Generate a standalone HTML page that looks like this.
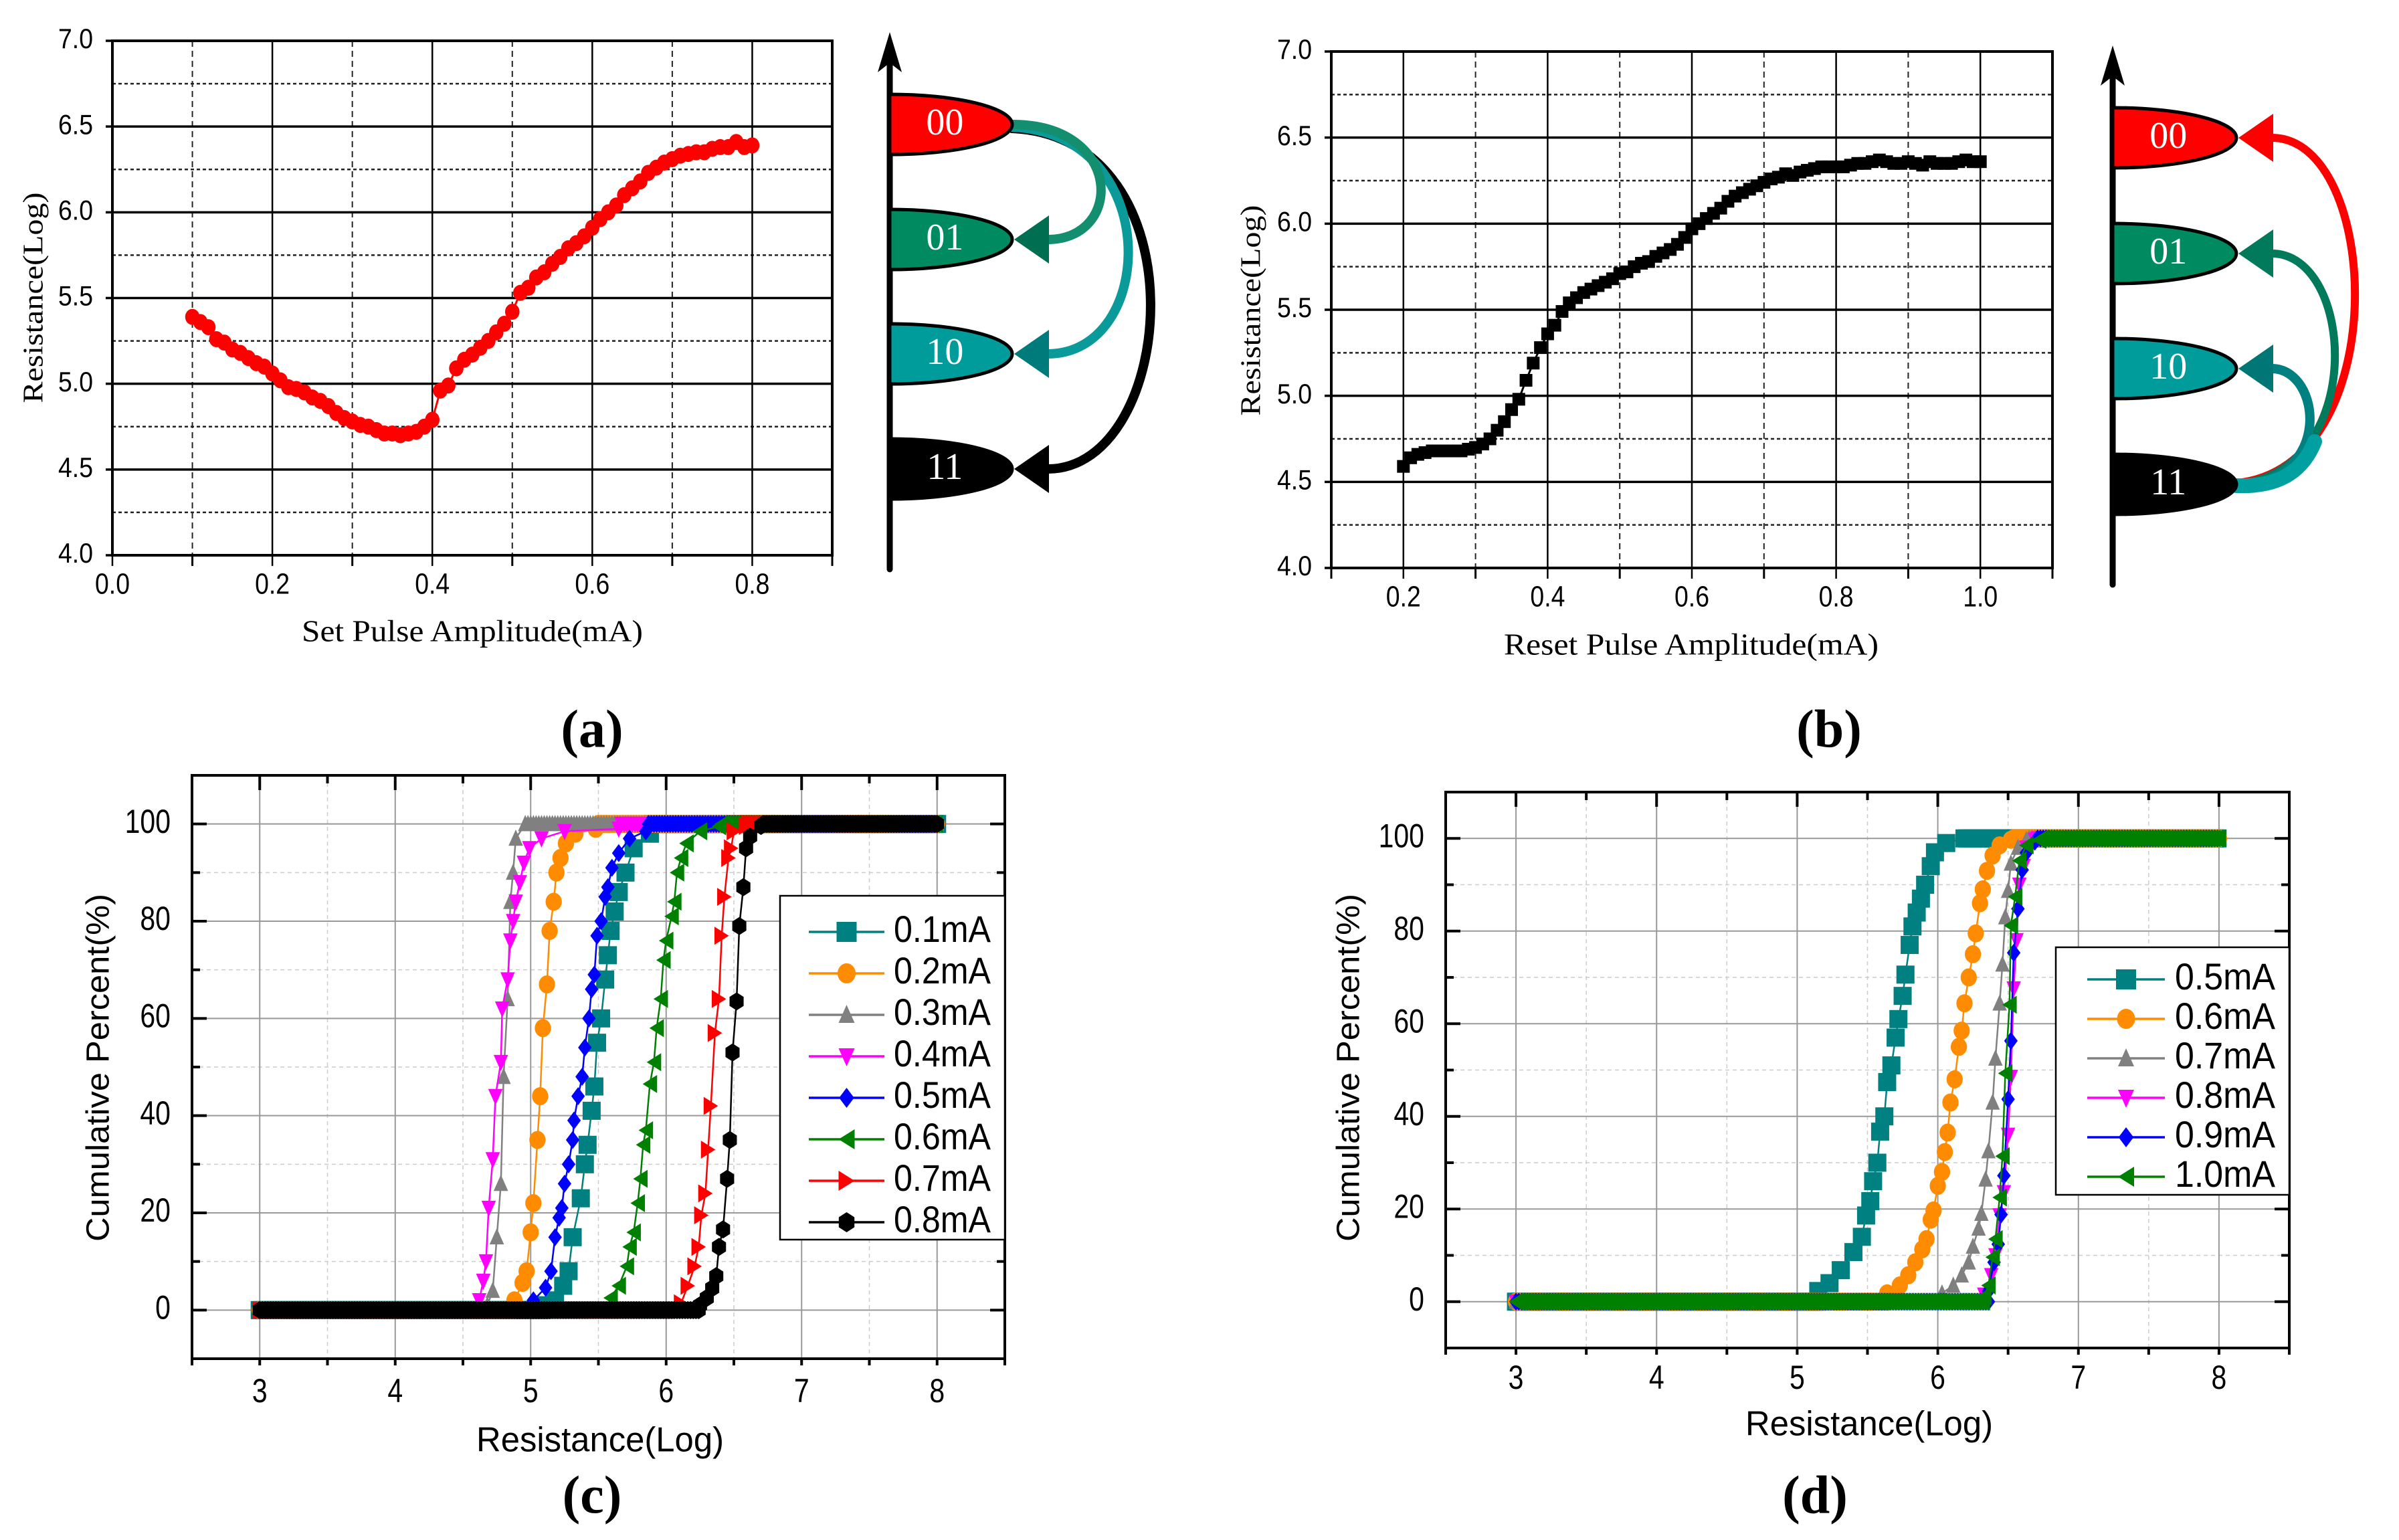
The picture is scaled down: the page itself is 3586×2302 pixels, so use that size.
<!DOCTYPE html>
<html><head><meta charset="utf-8"><title>Resistance charts</title>
<style>
html,body{margin:0;padding:0;background:#fff;}
svg{display:block;}
.nar{font-family:"Liberation Sans Narrow","Liberation Sans",sans-serif;}
.ser{font-family:"Liberation Serif",serif;}
.san{font-family:"Liberation Sans",sans-serif;}
</style></head>
<body>
<svg id="chart" xmlns="http://www.w3.org/2000/svg" width="3586" height="2302" viewBox="0 0 3586 2302">
<rect x="0" y="0" width="3586" height="2302" fill="#fff"/>
<text x="885" y="1098" class="ser" font-size="80" font-weight="bold" text-anchor="middle" dominant-baseline="middle">(a)</text>
<text x="2734" y="1098" class="ser" font-size="80" font-weight="bold" text-anchor="middle" dominant-baseline="middle">(b)</text>
<text x="885" y="2243" class="ser" font-size="80" font-weight="bold" text-anchor="middle" dominant-baseline="middle">(c)</text>
<text x="2713" y="2243" class="ser" font-size="80" font-weight="bold" text-anchor="middle" dominant-baseline="middle">(d)</text>
</svg>
<script>
// ---------- DATA ----------
const aX=[0.10,0.11,0.12,0.13,0.14,0.15,0.16,0.17,0.18,0.19,0.20,0.21,0.22,0.23,0.24,0.25,0.26,0.27,0.28,0.29,0.30,0.31,0.32,0.33,0.34,0.35,0.36,0.37,0.38,0.39,0.40,0.41,0.42,0.43,0.44,0.45,0.46,0.47,0.48,0.49,0.50,0.51,0.52,0.53,0.54,0.55,0.56,0.57,0.58,0.59,0.60,0.61,0.62,0.63,0.64,0.65,0.66,0.67,0.68,0.69,0.70,0.71,0.72,0.73,0.74,0.75,0.76,0.77,0.78,0.79,0.80];
const aY=[5.39,5.36,5.33,5.26,5.24,5.20,5.18,5.15,5.12,5.10,5.06,5.02,4.98,4.97,4.95,4.92,4.90,4.87,4.83,4.80,4.78,4.76,4.75,4.73,4.71,4.71,4.70,4.71,4.72,4.75,4.79,4.96,4.99,5.09,5.14,5.17,5.21,5.25,5.30,5.35,5.42,5.53,5.56,5.62,5.65,5.70,5.74,5.79,5.82,5.86,5.91,5.96,6.00,6.04,6.10,6.14,6.18,6.23,6.26,6.29,6.31,6.33,6.34,6.35,6.35,6.37,6.38,6.38,6.41,6.38,6.39];
const bX=[0.20,0.21,0.22,0.23,0.24,0.25,0.26,0.27,0.28,0.29,0.30,0.31,0.32,0.33,0.34,0.35,0.36,0.37,0.38,0.39,0.40,0.41,0.42,0.43,0.44,0.45,0.46,0.47,0.48,0.49,0.50,0.51,0.52,0.53,0.54,0.55,0.56,0.57,0.58,0.59,0.60,0.61,0.62,0.63,0.64,0.65,0.66,0.67,0.68,0.69,0.70,0.71,0.72,0.73,0.74,0.75,0.76,0.77,0.78,0.79,0.80,0.81,0.82,0.83,0.84,0.85,0.86,0.87,0.88,0.89,0.90,0.91,0.92,0.93,0.94,0.95,0.96,0.97,0.98,0.99,1.00];
const bY=[4.59,4.64,4.66,4.67,4.68,4.68,4.68,4.68,4.68,4.69,4.70,4.72,4.75,4.80,4.85,4.92,4.98,5.09,5.19,5.28,5.36,5.41,5.49,5.54,5.57,5.60,5.62,5.64,5.66,5.68,5.71,5.72,5.75,5.77,5.78,5.81,5.83,5.85,5.88,5.92,5.97,6.00,6.03,6.06,6.09,6.13,6.16,6.18,6.20,6.22,6.24,6.26,6.27,6.29,6.28,6.30,6.31,6.32,6.33,6.33,6.33,6.33,6.34,6.35,6.35,6.36,6.37,6.36,6.35,6.35,6.36,6.35,6.34,6.36,6.35,6.35,6.35,6.36,6.37,6.36,6.36];

const aXTicks=["0.0","0.2","0.4","0.6","0.8"];
const bXTicks=["0.2","0.4","0.6","0.8","1.0"];
const abYTicks=["4.0","4.5","5.0","5.5","6.0","6.5","7.0"];
const cdXTicks=["3","4","5","6","7","8"];
const cdYTicks=["0","20","40","60","80","100"];

const cLabels=["0.1mA","0.2mA","0.3mA","0.4mA","0.5mA","0.6mA","0.7mA","0.8mA"];
const c1X=[5.08,5.18,5.24,5.28,5.31,5.37,5.40,5.42,5.45,5.47,5.49,5.52,5.55,5.57,5.59,5.62,5.65,5.70,5.76,5.88];
const c1Y=[1,2,5,8,15,23,30,34,41,46,55,60,68,73,78,82,86,90,95,98];
const c2X=[4.88,4.94,4.97,5.00,5.02,5.05,5.07,5.09,5.12,5.14,5.17,5.19,5.22,5.26,5.33,5.48];
const c2Y=[2,5.6,8,16,22,35,44,58,67,78,84,90,93,96,98,99];
const c3X=[4.68,4.72,4.75,4.78,4.80,4.83,4.85,4.87,4.89,4.96];
const c3Y=[1,4,15,26,48,64,84,90,97,100];
const c4X=[4.62,4.65,4.67,4.69,4.72,4.74,4.78,4.79,4.83,4.85,4.87,4.89,4.92,4.95,4.99,5.08,5.25,5.65];
const c4Y=[2,6,10,21,31,44,51,62,68,76,80,84,88,92,95,97,98.5,99];
const c5X=[5.02,5.11,5.15,5.18,5.21,5.23,5.25,5.28,5.31,5.32,5.35,5.38,5.40,5.43,5.45,5.47,5.49,5.52,5.55,5.57,5.60,5.65,5.73,5.85];
const c5Y=[2,4.6,8,15,19,21,26,30,35,39,44,48,54,60,66,69,77,80,85,87,91,94,97,98.5];
const c6X=[5.59,5.65,5.71,5.73,5.76,5.79,5.81,5.83,5.85,5.88,5.91,5.93,5.96,5.98,6.00,6.04,6.06,6.08,6.11,6.15,6.25,6.39];
const c6Y=[2.5,5,9,13,16,22,27,34,37,46.5,51,58,64,72,76,81,84,90,93,96,98.5,99.5];
const c7X=[6.11,6.16,6.21,6.24,6.26,6.29,6.31,6.33,6.36,6.39,6.41,6.43,6.46,6.48,6.50,6.59];
const c7Y=[1.4,5,9,13,19.5,24,33,42,57,64,77,85,93,95,98.5,99.6];
const c8X=[6.25,6.30,6.34,6.37,6.39,6.42,6.45,6.47,6.49,6.52,6.54,6.57,6.59,6.62,6.70];
const c8Y=[1,2.5,4.5,7,13,16.6,27,35,53,63.5,79,87,95,97.4,99.6];

const dLabels=["0.5mA","0.6mA","0.7mA","0.8mA","0.9mA","1.0mA"];
const d1X=[5.15,5.23,5.31,5.40,5.46,5.49,5.52,5.54,5.57,5.59,5.62,5.64,5.67,5.70,5.72,5.75,5.77,5.80,5.82,5.85,5.88,5.91,5.95,5.98,6.06,6.19];
const d1Y=[2.3,4,6.8,10.7,14,18.6,21.7,26,30,36.7,40,47.4,51,57,61,66,70.6,77,81,84,87,90,94,97,99,100];
const d2X=[5.64,5.73,5.79,5.84,5.89,5.92,5.95,5.97,6.00,6.03,6.05,6.07,6.09,6.12,6.15,6.17,6.19,6.22,6.25,6.27,6.30,6.32,6.35,6.39,6.44,6.52];
const d2Y=[1.8,3.5,5.7,8.5,11.3,13.5,17.7,19.7,25,28,32.3,36.5,43,48,55,58.5,64.4,70,75,79.5,86,89,93,96.3,98.5,99.7];
const d3X=[6.03,6.11,6.17,6.22,6.25,6.29,6.31,6.34,6.36,6.39,6.41,6.44,6.46,6.48,6.50,6.52,6.57,6.63];
const d3Y=[1.8,3.5,5.7,8.5,11.9,15.8,19,26.4,32.5,43,52.5,64.4,72.8,83,88.7,94.6,98,99.7];
const d4X=[6.33,6.38,6.41,6.44,6.47,6.50,6.52,6.54,6.56,6.58,6.61,6.63,6.69];
const d4Y=[1.5,5.7,10,18.6,23.6,36,48.5,67.6,78,90,94,98,99.7];
const d5X=[6.36,6.40,6.43,6.45,6.47,6.50,6.52,6.54,6.57,6.60,6.63,6.69];
const d5Y=[2.3,8.5,12.4,18.8,27.2,43.7,56.3,75.3,84.8,93.2,96.9,99.3];
const d6X=[6.33,6.36,6.39,6.41,6.44,6.46,6.48,6.51,6.52,6.55,6.58,6.63,6.72];
const d6Y=[1.2,3.5,9.6,13.5,22.5,31.4,49.3,64.1,81.2,87.4,95.2,98.5,99.7];

// ---------- HELPERS ----------
const NS='http://www.w3.org/2000/svg';
const svg=document.getElementById('chart');
function mk(tag,attrs,parent){const e=document.createElementNS(NS,tag);for(const k in attrs)e.setAttribute(k,attrs[k]);(parent||svg).appendChild(e);return e;}
function lin(d0,d1,r0,r1){return v=>r0+(v-d0)*(r1-r0)/(d1-d0);}
function marker(shape,x,y,s,color,g,name){
  const r=s/2;let e;
  if(shape==='square'){e=mk('rect',{x:x-r,y:y-r,width:s,height:s,fill:color},g);}
  else if(shape==='circle'){e=mk('ellipse',{cx:x,cy:y,rx:r*0.9,ry:r,fill:color},g);}
  else{
    let p;
    if(shape==='up')p=[[x,y-r],[x+r*0.8,y+r*0.8],[x-r*0.8,y+r*0.8]];
    else if(shape==='down')p=[[x,y+r],[x+r*0.8,y-r*0.8],[x-r*0.8,y-r*0.8]];
    else if(shape==='left')p=[[x-r*0.8,y],[x+r*0.8,y-r],[x+r*0.8,y+r]];
    else if(shape==='right')p=[[x+r*0.8,y],[x-r*0.8,y-r],[x-r*0.8,y+r]];
    else if(shape==='diamond')p=[[x,y-r],[x+r*0.75,y],[x,y+r],[x-r*0.75,y]];
    else {p=[];for(let i=0;i<6;i++){const a=Math.PI/6+i*Math.PI/3;p.push([x+r*0.9*Math.cos(a),y+r*Math.sin(a)]);}}
    e=mk('polygon',{points:p.map(q=>q.join(',')).join(' '),fill:color},g);
  }
  
  
  return e;
}
function txt(s,x,y,attrs,cls,name,parent){
  const e=mk('text',Object.assign({x:x,y:y},attrs),parent);
  e.setAttribute('class',cls);e.textContent=s;
  
  
  return e;
}

// ---------- PANELS A / B ----------
function panelAB(cfg){
  const g=mk('g',{});
  
  
  const X=lin(cfg.x0,cfg.x1,cfg.L,cfg.R), Y=lin(4,7,cfg.B,cfg.T);
  for(let k=0;k<cfg.xMinor.length;k++){const l=mk('line',{x1:X(cfg.xMinor[k]),x2:X(cfg.xMinor[k]),y1:cfg.T,y2:cfg.B,stroke:'#222','stroke-width':2,'stroke-dasharray':'9 6'},g);
    }
  for(let v=4.25;v<7;v+=0.5){const l=mk('line',{x1:cfg.L,x2:cfg.R,y1:Y(v),y2:Y(v),stroke:'#222','stroke-width':2.5,'stroke-dasharray':'5 4'},g);
    }
  cfg.xTicks.forEach(t=>{const v=parseFloat(t);const l=mk('line',{x1:X(v),x2:X(v),y1:cfg.T,y2:cfg.B+16,stroke:'#000','stroke-width':2.5},g);
    
    txt(t,X(v),cfg.tickY,{'font-size':44,'text-anchor':'middle','dominant-baseline':'middle',textLength:52,lengthAdjust:'spacingAndGlyphs'},'nar','x-tick-label',g);});
  abYTicks.forEach(t=>{const v=parseFloat(t);const l=mk('line',{x1:cfg.L-10,x2:cfg.R,y1:Y(v),y2:Y(v),stroke:'#000','stroke-width':3.5},g);
    
    txt(t,cfg.yLabX,Y(v),{'font-size':42,'text-anchor':'end','dominant-baseline':'middle',textLength:52,lengthAdjust:'spacingAndGlyphs'},'nar','y-tick-label',g);});
  cfg.xMinor.concat([cfg.x1]).forEach(v=>{const l=mk('line',{x1:X(v),x2:X(v),y1:cfg.B,y2:cfg.B+16,stroke:'#000','stroke-width':3},g);
    });
  const f=mk('rect',{x:cfg.L,y:cfg.T,width:cfg.R-cfg.L,height:cfg.B-cfg.T,fill:'none',stroke:'#000','stroke-width':4},g);
  
  const pts=cfg.xs.map((v,i)=>X(v)+','+Y(cfg.ys[i])).join(' ');
  const pl=mk('polyline',{points:pts,fill:'none',stroke:cfg.color,'stroke-width':3},g);
  
  cfg.xs.forEach((v,i)=>marker(cfg.shape,X(v),Y(cfg.ys[i]),cfg.ms,cfg.color,g,'data-point'));
  txt(cfg.xTitle,cfg.xTitleX,cfg.xTitleY,{'font-size':46,'text-anchor':'middle','dominant-baseline':'middle',textLength:cfg.xTitleLen,lengthAdjust:'spacingAndGlyphs'},'ser','x-axis-title',g);
  txt('Resistance(Log)',0,0,{'font-size':42,'text-anchor':'middle','dominant-baseline':'middle',transform:`translate(${cfg.yTitleX},${cfg.yTitleY}) rotate(-90)`,textLength:315,lengthAdjust:'spacingAndGlyphs'},'ser','y-axis-title',g);
}
panelAB({name:'panel-a-set-chart',x0:0,x1:0.9,L:168,R:1244,T:61,B:830,xMinor:[0.1,0.3,0.5,0.7],xTicks:aXTicks,tickY:876,yLabX:139,
  xs:aX,ys:aY,color:'#ff0000',shape:'circle',ms:24,xTitle:'Set Pulse Amplitude(mA)',xTitleX:706,xTitleY:948,xTitleLen:510,yTitleX:54,yTitleY:445});
panelAB({name:'panel-b-reset-chart',x0:0.1,x1:1.1,L:1990,R:3068,T:77,B:849,xMinor:[0.1,0.3,0.5,0.7,0.9],xTicks:bXTicks,tickY:895,yLabX:1961,
  xs:bX,ys:bY,color:'#000',shape:'square',ms:19,xTitle:'Reset Pulse Amplitude(mA)',xTitleX:2528,xTitleY:968,xTitleLen:560,yTitleX:1874,yTitleY:464});

// ---------- PANELS C / D ----------
const TAIL_STEP=0.02;
function panelCD(cfg){
  const g=mk('g',{});
  
  
  const X=lin(2.5,8.5,cfg.L,cfg.R), Y=lin(-10,110,cfg.B,cfg.T);
  for(let v=3.5;v<8.5;v+=1){const l=mk('line',{x1:X(v),x2:X(v),y1:cfg.T,y2:cfg.B,stroke:'#ccc','stroke-width':1.5,'stroke-dasharray':'6 5'},g);
    }
  for(let v=10;v<110;v+=20){const l=mk('line',{x1:cfg.L,x2:cfg.R,y1:Y(v),y2:Y(v),stroke:'#ccc','stroke-width':1.5,'stroke-dasharray':'6 5'},g);
    }
  cdXTicks.forEach(t=>{const v=parseFloat(t);const l=mk('line',{x1:X(v),x2:X(v),y1:cfg.T,y2:cfg.B,stroke:'#999','stroke-width':2},g);
    
    txt(t,X(v),cfg.tickY,{'font-size':50,'text-anchor':'middle','dominant-baseline':'middle',transform:`translate(${X(v)},${cfg.tickY}) scale(0.82,1) translate(${-X(v)},${-cfg.tickY})`},'nar','x-tick-label',g);});
  cdYTicks.forEach(t=>{const v=parseFloat(t);const l=mk('line',{x1:cfg.L,x2:cfg.R,y1:Y(v),y2:Y(v),stroke:'#999','stroke-width':2},g);
    
    txt(t,cfg.yLabX,Y(v),{'font-size':50,'text-anchor':'end','dominant-baseline':'middle',transform:`translate(${cfg.yLabX},${Y(v)}) scale(0.82,1) translate(${-cfg.yLabX},${-Y(v)})`},'nar','y-tick-label',g);});
  for(let v=2.5;v<=8.5;v+=0.5){const major=Math.abs(v-Math.round(v))<0.01;const len=major?22:12;
    [[cfg.T,cfg.T+len],[cfg.B,cfg.B+10]].forEach(p=>{const l=mk('line',{x1:X(v),x2:X(v),y1:p[0],y2:p[1],stroke:'#000','stroke-width':4},g);
    });}
  for(let v=-10;v<=110;v+=10){const major=v%20===0;const len=major?22:12;
    [[cfg.L,cfg.L+len],[cfg.R,cfg.R-len]].forEach(p=>{const l=mk('line',{x1:p[0],x2:p[1],y1:Y(v),y2:Y(v),stroke:'#000','stroke-width':4},g);
    });}
  const f=mk('rect',{x:cfg.L,y:cfg.T,width:cfg.R-cfg.L,height:cfg.B-cfg.T,fill:'none',stroke:'#000','stroke-width':4},g);
  
  cfg.series.forEach((s,si)=>{
    const sg=mk('g',{},g);
    
    
    const px=[],py=[];
    for(let v=3;v<s.x[0];v+=TAIL_STEP){px.push(v);py.push(0);}
    s.x.forEach((v,i)=>{px.push(v);py.push(s.y[i]);});
    for(let v=s.x[s.x.length-1]+TAIL_STEP;v<=8.0001;v+=TAIL_STEP){px.push(v);py.push(100);}
    const pl=mk('polyline',{points:px.map((v,i)=>X(v)+','+Y(py[i])).join(' '),fill:'none',stroke:s.c,'stroke-width':2.5},sg);
    
    px.forEach((v,i)=>marker(s.m,X(v),Y(py[i]),cfg.ms,s.c,sg,'data-point'));
  });
  const lg=mk('g',{},g);
  
  
  const lb=mk('rect',{x:cfg.leg.x,y:cfg.leg.y,width:cfg.leg.w,height:cfg.leg.h,fill:'#fff',stroke:'#000','stroke-width':2.5},lg);
  
  cfg.series.forEach((s,i)=>{
    const y=cfg.leg.y0+i*cfg.leg.dy;
    const l=mk('line',{x1:cfg.leg.l0,x2:cfg.leg.l1,y1:y,y2:y,stroke:s.c,'stroke-width':3.5},lg);
    
    marker(s.m,(cfg.leg.l0+cfg.leg.l1)/2,y,30,s.c,lg,'legend-marker');
    txt(cfg.labels[i],cfg.leg.tx,y,{'font-size':56,'dominant-baseline':'middle',textLength:cfg.leg.tl,lengthAdjust:'spacingAndGlyphs'},'nar','legend-entry',lg);
  });
  txt('Resistance(Log)',cfg.xTitleX,cfg.xTitleY,{'font-size':52,'text-anchor':'middle','dominant-baseline':'middle',textLength:370,lengthAdjust:'spacingAndGlyphs'},'nar','x-axis-title',g);
  txt('Cumulative Percent(%)',0,0,{'font-size':48,'text-anchor':'middle','dominant-baseline':'middle',transform:`translate(${cfg.yTitleX},${cfg.yTitleY}) rotate(-90)`,textLength:520,lengthAdjust:'spacingAndGlyphs'},'san','y-axis-title',g);
}
panelCD({name:'panel-c-set-cdf',L:287,R:1502,T:1159,B:2031,tickY:2083,yLabX:255,ms:27,labels:cLabels,
  series:[{x:c1X,y:c1Y,c:'#008080',m:'square'},{x:c2X,y:c2Y,c:'#ff8c00',m:'circle'},{x:c3X,y:c3Y,c:'#808080',m:'up'},{x:c4X,y:c4Y,c:'#ff00ff',m:'down'},
          {x:c5X,y:c5Y,c:'#0000ff',m:'diamond'},{x:c6X,y:c6Y,c:'#008000',m:'left'},{x:c7X,y:c7Y,c:'#ff0000',m:'right'},{x:c8X,y:c8Y,c:'#000000',m:'hex'}],
  leg:{x:1166,y:1339,w:336,h:514,y0:1393,dy:62,l0:1209,l1:1322,tx:1336,tl:145},xTitleX:897,xTitleY:2156,yTitleX:150,yTitleY:1596});
panelCD({name:'panel-d-reset-cdf',L:2161,R:3422,T:1184,B:2015,tickY:2063,yLabX:2129,ms:27,labels:dLabels,
  series:[{x:d1X,y:d1Y,c:'#008080',m:'square'},{x:d2X,y:d2Y,c:'#ff8c00',m:'circle'},{x:d3X,y:d3Y,c:'#808080',m:'up'},{x:d4X,y:d4Y,c:'#ff00ff',m:'down'},
          {x:d5X,y:d5Y,c:'#0000ff',m:'diamond'},{x:d6X,y:d6Y,c:'#008000',m:'left'}],
  leg:{x:3073,y:1416,w:349,h:370,y0:1464,dy:59,l0:3120,l1:3236,tx:3251,tl:150},xTitleX:2794,xTitleY:2132,yTitleX:2019,yTitleY:1596});

// ---------- STATE DIAGRAMS ----------
function diagram(cfg){
  const g=mk('g',{});
  
  
  const ax=mk('line',{x1:cfg.ax,x2:cfg.ax,y1:cfg.top+40,y2:cfg.bot,stroke:'#000','stroke-width':9,'stroke-linecap':'round'},g);
  
  const ah=mk('polygon',{points:`${cfg.ax},${cfg.top} ${cfg.ax+18},${cfg.top+60} ${cfg.ax},${cfg.top+46} ${cfg.ax-18},${cfg.top+60}`,fill:'#000'},g);
  
  cfg.arrows.forEach(a=>{
    const p=mk('path',{d:a.d,fill:'none',stroke:a.c,'stroke-width':a.w||14,'stroke-linecap':'round'},g);
    
    if(a.tip){const h=mk('polygon',{points:`${a.tip[0]},${a.tip[1]} ${a.tip[0]+52},${a.tip[1]-36} ${a.tip[0]+52},${a.tip[1]+36}`,fill:a.hc||a.c},g);
      }
  });
  cfg.states.forEach(s=>{
    const w=cfg.right-cfg.ax,h=45;
    const e=mk('path',{d:`M${cfg.ax},${s.y-h} A${w},${h} 0 0 1 ${cfg.ax},${s.y+h} Z`,fill:s.c,stroke:'#000','stroke-width':5},g);
    
    txt(s.t,cfg.ax+w*0.45,s.y+2,{'font-size':56,fill:'#fff','text-anchor':'middle','dominant-baseline':'middle'},'ser','state-label',g);
  });
}
diagram({name:'set-state-diagram',ax:1330,top:48,bot:851,right:1513,
  states:[{t:'00',y:186,c:'#ff0000'},{t:'01',y:358,c:'#008a60'},{t:'10',y:529,c:'#009c9c'},{t:'11',y:701,c:'#000'}],
  arrows:[{d:'M1513,192 C1800,205 1760,701 1566,701',c:'#000',tip:[1516,701]},
          {d:'M1513,190 C1740,200 1730,529 1566,529',c:'#0a9a9a',hc:'#007b7b',tip:[1516,529]},
          {d:'M1513,186 C1680,186 1680,358 1566,358',c:'#138f6f',hc:'#006e50',tip:[1516,358]}]});
diagram({name:'reset-state-diagram',ax:3158,top:68,bot:874,right:3343,
  states:[{t:'00',y:206,c:'#ff0000'},{t:'01',y:379,c:'#008a60'},{t:'10',y:551,c:'#009c9c'},{t:'11',y:724,c:'#000'}],
  arrows:[{d:'M3343,722 C3580,700 3560,206 3396,206',c:'#ff0000',w:12,tip:[3346,206]},
          {d:'M3343,724 C3540,705 3520,379 3396,379',c:'#007a5a',w:12,tip:[3346,379]},
          {d:'M3343,726 C3490,720 3470,551 3396,551',c:'#008080',w:14,hc:'#007676',tip:[3346,551]},
          {d:'M3343,726 C3400,728 3440,710 3460,660',c:'#00a0a0',w:22}]});
</script>
</body></html>
